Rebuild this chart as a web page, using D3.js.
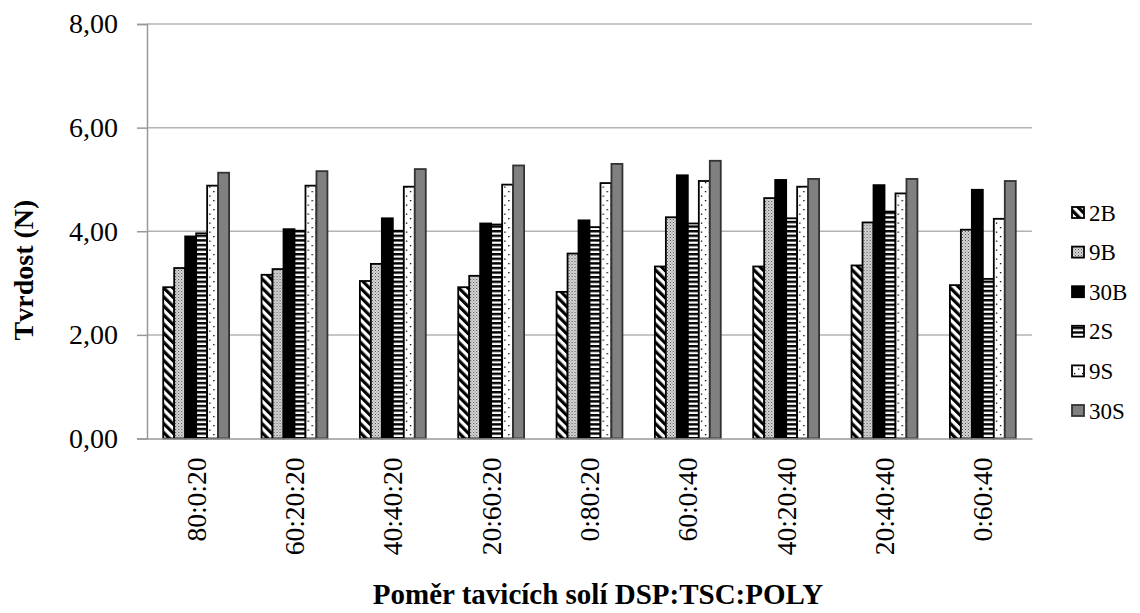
<!DOCTYPE html>
<html><head><meta charset="utf-8">
<script src="https://cdn.jsdelivr.net/npm/d3@7"></script>
<style>body{margin:0;background:#fff}svg{display:block}text{font-family:"Liberation Serif","Times New Roman",serif}</style>
</head><body><svg id="c" width="1140" height="613"></svg>
<script>
const categories = ["80:0:20","60:20:20","40:40:20","20:60:20","0:80:20","60:0:40","40:20:40","20:40:40","0:60:40"];
const seriesNames = ["2B","9B","30B","2S","9S","30S"];
const v2B  = [2.92,3.16,3.04,2.92,2.83,3.32,3.32,3.34,2.96];
const v9B  = [3.29,3.27,3.37,3.14,3.57,4.27,4.64,4.17,4.03];
const v30B = [3.90,4.04,4.25,4.15,4.21,5.08,4.99,4.89,4.80];
const v2S  = [3.96,4.01,4.01,4.13,4.08,4.15,4.25,4.38,3.08];
const v9S  = [4.88,4.88,4.86,4.90,4.93,4.97,4.86,4.73,4.24];
const v30S = [5.13,5.16,5.20,5.27,5.30,5.36,5.01,5.01,4.97];
const yTicks = [0,2,4,6,8];
const yTitle = "Tvrdost (N)";
const xTitle = "Poměr tavicích solí DSP:TSC:POLY";

const seriesValues = [v2B,v9B,v30B,v2S,v9S,v30S];
const svg = d3.select("#c");
const L=147,R=1032,T=24,B=438.5;

const defs = svg.append("defs");
// 2B diagonal stripes
let p = defs.append("pattern").attr("id","p2B").attr("patternUnits","userSpaceOnUse")
  .attr("width",6.4).attr("height",10).attr("patternTransform","rotate(-45)");
p.append("rect").attr("width",6.4).attr("height",10).attr("fill","#fff");
p.append("rect").attr("width",3.2).attr("height",10).attr("fill","#000");
// 9B fine dots
p = defs.append("pattern").attr("id","p9B").attr("patternUnits","userSpaceOnUse").attr("width",3).attr("height",3);
p.append("rect").attr("width",3).attr("height",3).attr("fill","#dcdcdc");
p.append("rect").attr("x",0).attr("y",0).attr("width",1).attr("height",1).attr("fill","#444");
p.append("rect").attr("x",1.5).attr("y",1.5).attr("width",1).attr("height",1).attr("fill","#666");
// 2S horizontal stripes
p = defs.append("pattern").attr("id","p2S").attr("patternUnits","userSpaceOnUse").attr("width",10).attr("height",4.6);
p.append("rect").attr("width",10).attr("height",4.6).attr("fill","#fff");
p.append("rect").attr("width",10).attr("height",2.4).attr("fill","#000");
// 9S sparse dots
p = defs.append("pattern").attr("id","p9S").attr("patternUnits","userSpaceOnUse").attr("width",8).attr("height",9);
p.append("rect").attr("width",8).attr("height",9).attr("fill","#fff");
p.append("rect").attr("x",2).attr("y",2).attr("width",1.3).attr("height",1.3).attr("fill","#000");
p.append("rect").attr("x",6).attr("y",6.5).attr("width",1.3).attr("height",1.3).attr("fill","#000");

const fills = {"2B":"url(#p2B)","9B":"url(#p9B)","30B":"#000","2S":"url(#p2S)","9S":"url(#p9S)","30S":"#808080"};
const strokes = {"2B":"#000","9B":"#000","30B":"#000","2S":"#000","9S":"#000","30S":"#333"};

const y = d3.scaleLinear().domain([0,8]).range([B,T]);
const x0 = d3.scaleBand().domain(categories).range([L,R]).paddingInner(0.33).paddingOuter(0.165);
const x1 = d3.scaleBand().domain(seriesNames).range([0,x0.bandwidth()]);

// gridlines
svg.append("g").selectAll("line").data(yTicks.filter(d=>d>0)).join("line")
  .attr("x1",L).attr("x2",R).attr("y1",d=>y(d)).attr("y2",d=>y(d))
  .attr("stroke","#b3b3b3").attr("stroke-width",1.5);

// y axis
const ya = svg.append("g").attr("transform",`translate(${L},0)`)
  .call(d3.axisLeft(y).tickValues(yTicks).tickSize(10).tickPadding(19)
    .tickFormat(d=>d3.format(".2f")(d).replace(".",",")));
ya.select(".domain").attr("stroke","#999").attr("stroke-width",1.5);
ya.selectAll(".tick line").attr("stroke","#999").attr("stroke-width",1.5);
ya.selectAll(".tick text").attr("font-size",28).attr("fill","#000").attr("font-family","Liberation Serif");

// bars
const groups = svg.append("g").selectAll("g").data(categories).join("g")
  .attr("transform",c=>`translate(${x0(c)},0)`);
groups.selectAll("rect").data((c,i)=>seriesNames.map((s,j)=>({s,v:seriesValues[j][i]}))).join("rect")
  .attr("x",d=>x1(d.s)).attr("width",x1.bandwidth())
  .attr("y",d=>y(d.v)).attr("height",d=>y(0)-y(d.v))
  .attr("fill",d=>fills[d.s]).attr("stroke",d=>strokes[d.s]).attr("stroke-width",1.8);

// x axis
const xa = svg.append("g").attr("transform",`translate(0,${B})`)
  .call(d3.axisBottom(x0).tickSize(0).tickPadding(0));
xa.select(".domain").attr("stroke","#999").attr("stroke-width",1.5);
xa.selectAll(".tick text").attr("font-size",27.5).attr("fill","#000").attr("font-family","Liberation Serif")
  .attr("transform","rotate(-90)").attr("text-anchor","end").attr("dy","0.35em").attr("x",-19).attr("y",0);

// titles
svg.append("text").attr("transform","translate(33,270) rotate(-90)").attr("text-anchor","middle")
  .attr("font-size",28).attr("font-weight","bold").text(yTitle);
svg.append("text").attr("x",598).attr("y",604).attr("text-anchor","middle")
  .attr("font-size",29).attr("font-weight","bold").text(xTitle);

// legend
const lg = svg.append("g").selectAll("g").data(seriesNames).join("g")
  .attr("transform",(d,i)=>`translate(1072,${212.5+i*39.6})`);
lg.append("rect").attr("x",0).attr("y",-5.5).attr("width",12).attr("height",11)
  .attr("fill",d=>fills[d]).attr("stroke",d=>strokes[d]).attr("stroke-width",1.8);
lg.append("text").attr("x",17).attr("y",0).attr("dy","0.35em").attr("font-size",23).text(d=>d);
</script></body></html>
